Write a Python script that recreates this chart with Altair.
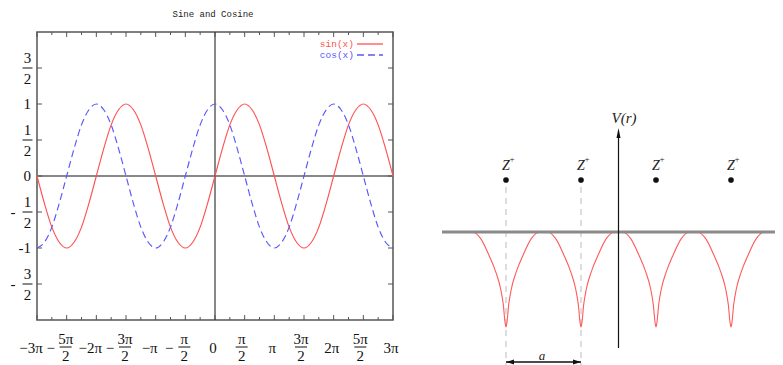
import altair as alt
import pandas as pd

# ---------------- values ----------------
TITLE = "Sine and Cosine"
SERIES = ["sin(x)", "cos(x)"]

# curve samples every pi/8 from -3pi to 3pi (x counted in eighths of pi)
X_EIGHTHS_OF_PI = list(range(-24, 25))
SIN_Y = [0, -0.38, -0.71, -0.92, -1, -0.92, -0.71, -0.38,
         0, 0.38, 0.71, 0.92, 1, 0.92, 0.71, 0.38,
         0, -0.38, -0.71, -0.92, -1, -0.92, -0.71, -0.38,
         0, 0.38, 0.71, 0.92, 1, 0.92, 0.71, 0.38,
         0, -0.38, -0.71, -0.92, -1, -0.92, -0.71, -0.38,
         0, 0.38, 0.71, 0.92, 1, 0.92, 0.71, 0.38,
         0]
COS_Y = [-1, -0.92, -0.71, -0.38, 0, 0.38, 0.71, 0.92,
         1, 0.92, 0.71, 0.38, 0, -0.38, -0.71, -0.92,
         -1, -0.92, -0.71, -0.38, 0, 0.38, 0.71, 0.92,
         1, 0.92, 0.71, 0.38, 0, -0.38, -0.71, -0.92,
         -1, -0.92, -0.71, -0.38, 0, 0.38, 0.71, 0.92,
         1, 0.92, 0.71, 0.38, 0, -0.38, -0.71, -0.92,
         -1]

X_TICK_QUARTERS = list(range(-12, 13))          # ticks every pi/4
Y_TICKS = [-1.5, -1, -0.5, 0, 0.5, 1, 1.5]

X_INT_TICKS = [-3, -2, -1, 0, 1, 2, 3]
X_INT_TEXT = ["\u22123\u03c0", "\u22122\u03c0", "\u2212\u03c0", "0", "\u03c0", "2\u03c0", "3\u03c0"]
X_FRAC_TICKS = [-2.5, -1.5, -0.5, 0.5, 1.5, 2.5]
X_FRAC_NUM = ["5\u03c0", "3\u03c0", "\u03c0", "\u03c0", "3\u03c0", "5\u03c0"]
X_FRAC_DEN = ["2", "2", "2", "2", "2", "2"]

Y_INT_TICKS = [1, 0, -1]
Y_INT_TEXT = ["1", "0", "-1"]
Y_FRAC_TICKS = [1.5, 0.5, -0.5, -1.5]
Y_FRAC_NUM = ["3", "1", "1", "3"]
Y_FRAC_DEN = ["2", "2", "2", "2"]

# right panel: periodic potential
AXIS_LABEL = "V(r)"
NUCLEUS_LABEL = "Z"
NUCLEUS_SUP = "+"
SPACING_LABEL = "a"
NUCLEI_R = [-1.5, -0.5, 0.5, 1.5]          # in units of a
MARKED_NUCLEI = [-1.5, -0.5]
WELL_OFFSETS = [0.45, 0.337, 0.227, 0.137, 0.071, 0.035, 0.013, 0.0]
WELL_DEPTHS = [0.0, -0.07, -0.245, -0.42, -0.6, -0.77, -0.95, -1.0]
CURVE_START, CURVE_END = -2.07, 2.06

# ---------------- layout (pixels of the page) ----------------
PAGE = 8
W, H = 767, 357
L_X0, L_X1 = 37, 393          # -3pi .. 3pi
L_Y0, L_YU = 176, 72          # y=0, px per unit
R_X0, R_XU = 618.5, 75
R_Y0, R_YU = 232, 95
PXPI = (L_X1 - L_X0) / 6.0


def lx(px):
    return (px - L_X0) / PXPI - 3


def ly(py):
    return (L_Y0 - py) / L_YU


def rx(px):
    return (px - R_X0) / R_XU


def ry(py):
    return (R_Y0 - py) / R_YU


SLX = alt.Scale(domain=[lx(PAGE), lx(PAGE + W)], nice=False, zero=False)
SLY = alt.Scale(domain=[ly(PAGE + H), ly(PAGE)], nice=False, zero=False)
SRX = alt.Scale(domain=[rx(PAGE), rx(PAGE + W)], nice=False, zero=False)
SRY = alt.Scale(domain=[ry(PAGE + H), ry(PAGE)], nice=False, zero=False)


def LX(f):
    return alt.X(f, type="quantitative", scale=SLX, axis=None)


def LY(f):
    return alt.Y(f, type="quantitative", scale=SLY, axis=None)


def RX(f):
    return alt.X(f, type="quantitative", scale=SRX, axis=None)


def RY(f):
    return alt.Y(f, type="quantitative", scale=SRY, axis=None)


SERIF = "Liberation Serif"
MONO = "Liberation Mono"
RED = "#ff5252"
BLUE = "#5858ff"

# ---------------- left panel ----------------
curves = pd.DataFrame({"x": [k / 8 for k in X_EIGHTHS_OF_PI], "sin": SIN_Y, "cos": COS_Y})

frame = alt.Chart(pd.DataFrame({"x": [-3], "x2": [3], "y": [-2], "y2": [2]})).mark_rect(
    fillOpacity=0, stroke="#555555", strokeWidth=1.5
).encode(x=LX("x"), x2="x2", y=LY("y"), y2="y2")

zero_line = alt.Chart(pd.DataFrame({"x": [-3], "x2": [3], "y": [0]})).mark_rule(
    color="#888888", strokeWidth=2
).encode(x=LX("x"), x2="x2", y=LY("y"))

v_line = alt.Chart(pd.DataFrame({"x": [0], "y": [-2], "y2": [2]})).mark_rule(
    color="#111111", strokeWidth=1
).encode(x=LX("x"), y=LY("y"), y2="y2")

tick_rows = []
for q in X_TICK_QUARTERS:
    t = q / 4
    ln = (5 if q % 2 == 0 else 3) / L_YU
    tick_rows.append({"x": t, "x2": t, "y": -2, "y2": -2 + ln})
    tick_rows.append({"x": t, "x2": t, "y": 2, "y2": 2 - ln})
for v in Y_TICKS:
    ln = 5 / PXPI
    tick_rows.append({"x": -3, "x2": -3 + ln, "y": v, "y2": v})
    tick_rows.append({"x": 3, "x2": 3 - ln, "y": v, "y2": v})
ticks = alt.Chart(pd.DataFrame(tick_rows)).mark_rule(color="#555555", strokeWidth=1).encode(
    x=LX("x"), x2="x2", y=LY("y"), y2="y2")

sin_line = alt.Chart(curves).mark_line(color=RED, strokeWidth=1.15, interpolate="monotone").encode(
    x=LX("x"), y=LY("sin"))
cos_line = alt.Chart(curves).mark_line(color=BLUE, strokeWidth=1.15, strokeDash=[7, 4],
                                       interpolate="monotone").encode(x=LX("x"), y=LY("cos"))

title = alt.Chart(pd.DataFrame({"x": [lx(213)], "y": [ly(14)], "t": [TITLE]})).mark_text(
    font=MONO, fontSize=9, color="#222222", baseline="middle"
).encode(x=LX("x"), y=LY("y"), text="t:N")

leg = pd.DataFrame({"x": [lx(354)] * 2, "y": [ly(44), ly(55)], "t": SERIES,
                    "sx": [lx(357)] * 2, "sx2": [lx(383)] * 2})
leg_sin_t = alt.Chart(leg.iloc[[0]]).mark_text(font=MONO, fontSize=9.5, color=RED, align="right",
                                               baseline="middle").encode(x=LX("x"), y=LY("y"), text="t:N")
leg_cos_t = alt.Chart(leg.iloc[[1]]).mark_text(font=MONO, fontSize=9.5, color=BLUE, align="right",
                                               baseline="middle").encode(x=LX("x"), y=LY("y"), text="t:N")
leg_sin_l = alt.Chart(leg.iloc[[0]]).mark_rule(color=RED, strokeWidth=1.3).encode(
    x=LX("sx"), x2="sx2", y=LY("y"))
leg_cos_l = alt.Chart(leg.iloc[[1]]).mark_rule(color=BLUE, strokeWidth=1.3, strokeDash=[7, 4]).encode(
    x=LX("sx"), x2="sx2", y=LY("y"))

FS = 15
# x labels, single line
xi = pd.DataFrame({"x": [t + (-6 if t < 0 else -2) / PXPI for t in X_INT_TICKS],
                   "y": [-2] * len(X_INT_TICKS), "t": X_INT_TEXT})
x_int = alt.Chart(xi).mark_text(font=SERIF, fontSize=FS, color="#111111", baseline="middle", dy=28).encode(
    x=LX("x"), y=LY("y"), text="t:N")
# x labels, fractions
xf = pd.DataFrame({"xc": [t + (-1 if t < 0 else -3) / PXPI for t in X_FRAC_TICKS],
                   "num": X_FRAC_NUM, "den": X_FRAC_DEN, "neg": [t < 0 for t in X_FRAC_TICKS],
                   "tick": X_FRAC_TICKS})
xf["y"] = -2
xf["bx"] = xf["xc"] - 6 / PXPI
xf["bx2"] = xf["xc"] + 6 / PXPI
xf["by"] = ly(347)
xf["mx"] = xf["tick"] - 16 / PXPI
xf["m"] = "\u2212"
x_num = alt.Chart(xf).mark_text(font=SERIF, fontSize=FS, color="#111111", baseline="middle", dy=19).encode(
    x=LX("xc"), y=LY("y"), text="num:N")
x_den = alt.Chart(xf).mark_text(font=SERIF, fontSize=FS, color="#111111", baseline="middle", dy=36).encode(
    x=LX("xc"), y=LY("y"), text="den:N")
x_bar = alt.Chart(xf).mark_rule(color="#111111", strokeWidth=1).encode(x=LX("bx"), x2="bx2", y=LY("by"))
x_minus = alt.Chart(xf[xf["neg"]]).mark_text(font=SERIF, fontSize=FS, color="#111111",
                                             baseline="middle", dy=28).encode(
    x=LX("mx"), y=LY("y"), text="m:N")

# y labels
yi = pd.DataFrame({"x": [-3] * len(Y_INT_TICKS), "y": Y_INT_TICKS, "t": Y_INT_TEXT})
y_int = alt.Chart(yi).mark_text(font=SERIF, fontSize=FS, color="#111111", baseline="middle",
                                align="right", dx=-6).encode(x=LX("x"), y=LY("y"), text="t:N")
yf = pd.DataFrame({"y": Y_FRAC_TICKS, "num": Y_FRAC_NUM, "den": Y_FRAC_DEN,
                   "neg": [v < 0 for v in Y_FRAC_TICKS]})
yf["x"] = -3
yf["bx"] = lx(22.5)
yf["bx2"] = lx(32.5)
yf["m"] = "-"
y_num = alt.Chart(yf).mark_text(font=SERIF, fontSize=FS, color="#111111", baseline="middle",
                                dx=-9.5, dy=-10).encode(x=LX("x"), y=LY("y"), text="num:N")
y_den = alt.Chart(yf).mark_text(font=SERIF, fontSize=FS, color="#111111", baseline="middle",
                                dx=-9.5, dy=11).encode(x=LX("x"), y=LY("y"), text="den:N")
y_bar = alt.Chart(yf).mark_rule(color="#111111", strokeWidth=1).encode(x=LX("bx"), x2="bx2", y=LY("y"))
y_minus = alt.Chart(yf[yf["neg"]]).mark_text(font=SERIF, fontSize=FS, color="#111111", baseline="middle",
                                             dx=-24).encode(x=LX("x"), y=LY("y"), text="m:N")

left = alt.layer(frame, zero_line, v_line, ticks, sin_line, cos_line, title,
                 leg_sin_t, leg_cos_t, leg_sin_l, leg_cos_l,
                 x_int, x_num, x_den, x_bar, x_minus, y_int, y_num, y_den, y_bar, y_minus)

# ---------------- right panel ----------------
pts = [(CURVE_START, 0.0)]
for c in NUCLEI_R:
    for o, d in zip(WELL_OFFSETS, WELL_DEPTHS):
        pts.append((c - o, d))
    for o, d in reversed(list(zip(WELL_OFFSETS[:-1], WELL_DEPTHS[:-1]))):
        pts.append((c + o, d))
pts.append((CURVE_END, 0.0))
pot = pd.DataFrame(pts, columns=["r", "v"])
pot["i"] = range(len(pot))

pot_line = alt.Chart(pot).mark_line(color="#ff5a5a", strokeWidth=1.1, interpolate="monotone").encode(
    x=RX("r"), y=RY("v"), order="i:Q")

dash_df = pd.DataFrame({"r": MARKED_NUCLEI, "y": [ry(187)] * 2, "y2": [ry(PAGE + H)] * 2})
dashes = alt.Chart(dash_df).mark_rule(color="#bbbbbb", strokeWidth=1, strokeDash=[6, 5]).encode(
    x=RX("r"), y=RY("y"), y2="y2")

base = alt.Chart(pd.DataFrame({"x": [rx(442)], "x2": [rx(PAGE + W)], "y": [0]})).mark_rule(
    color="#8a8a8a", strokeWidth=3).encode(x=RX("x"), x2="x2", y=RY("y"))

vaxis = alt.Chart(pd.DataFrame({"x": [0], "y": [ry(348)], "y2": [ry(134)]})).mark_rule(
    color="#111111", strokeWidth=1.2).encode(x=RX("x"), y=RY("y"), y2="y2")
vhead = alt.Chart(pd.DataFrame({"x": [0], "y": [ry(133)]})).mark_point(
    shape="M0,-1L0.4,1L-0.4,1Z", size=100, filled=True, color="#111111", opacity=1).encode(
    x=RX("x"), y=RY("y"))
vlabel = alt.Chart(pd.DataFrame({"x": [rx(624)], "y": [ry(118)], "t": [AXIS_LABEL]})).mark_text(
    font=SERIF, fontStyle="italic", fontSize=15, color="#222222", baseline="middle").encode(
    x=RX("x"), y=RY("y"), text="t:N")

nuc = pd.DataFrame({"r": NUCLEI_R, "y": [ry(180)] * 4, "ty": [ry(166)] * 4,
                    "z": [NUCLEUS_LABEL] * 4, "s": [NUCLEUS_SUP] * 4})
dots = alt.Chart(nuc).mark_circle(size=32, color="#111111", opacity=1).encode(x=RX("r"), y=RY("y"))
zlab = alt.Chart(nuc).mark_text(font=SERIF, fontStyle="italic", fontSize=14, color="#222222",
                                baseline="middle").encode(x=RX("r"), y=RY("ty"), text="z:N")
zsup = alt.Chart(nuc).mark_text(font=SERIF, fontSize=9, color="#222222", baseline="middle",
                                dx=6, dy=-7).encode(x=RX("r"), y=RY("ty"), text="s:N")

arr = pd.DataFrame({"x": [MARKED_NUCLEI[0]], "x2": [MARKED_NUCLEI[1]], "y": [ry(362)],
                    "hl": [MARKED_NUCLEI[0] + 4 / R_XU], "hr": [MARKED_NUCLEI[1] - 4 / R_XU],
                    "lx": [rx(542)], "ly": [ry(356)], "t": [SPACING_LABEL]})
arr_line = alt.Chart(arr).mark_rule(color="#111111", strokeWidth=1.5).encode(x=RX("x"), x2="x2", y=RY("y"))
arr_l = alt.Chart(arr).mark_point(shape="M-1,0L1,-0.6L1,0.6Z", size=64, filled=True, color="#111111",
                                  opacity=1).encode(x=RX("hl"), y=RY("y"))
arr_r = alt.Chart(arr).mark_point(shape="M1,0L-1,-0.6L-1,0.6Z", size=64, filled=True, color="#111111",
                                  opacity=1).encode(x=RX("hr"), y=RY("y"))
arr_t = alt.Chart(arr).mark_text(font=SERIF, fontStyle="italic", fontSize=13, color="#222222",
                                 baseline="middle").encode(x=RX("lx"), y=RY("ly"), text="t:N")

right = alt.layer(dashes, pot_line, base, vaxis, vhead, vlabel, dots, zlab, zsup,
                  arr_line, arr_l, arr_r, arr_t)

chart = alt.layer(left, right).resolve_scale(x="independent", y="independent").properties(
    width=W, height=H, padding=0, autosize=alt.AutoSizeParams(type="none"), background="white"
).configure_view(stroke=None)

chart.save("out.html", embed_options={"renderer": "svg", "actions": False})
